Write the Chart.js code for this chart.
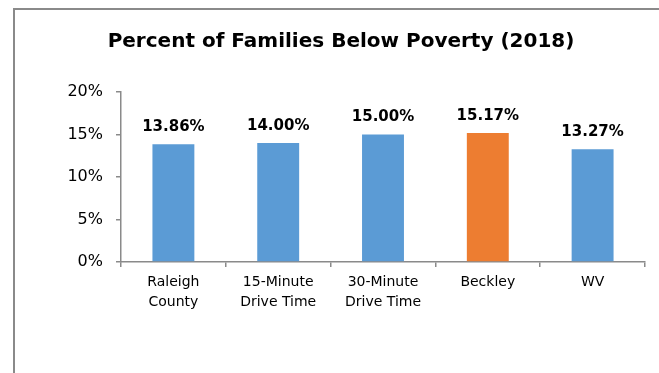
<!DOCTYPE html>
<html>
<head>
<meta charset="utf-8">
<script src="https://cdn.jsdelivr.net/npm/chart.js@4/dist/chart.umd.min.js"></script>
<style>
  html, body { margin: 0; padding: 0; background: #fff; }
  #wrap { position: relative; width: 659px; height: 373px; overflow: hidden; }
  #frame { position: absolute; left: 13px; top: 8px; width: 700px; height: 400px;
           border-left: 2px solid #8a8a8a; border-top: 2px solid #8a8a8a; box-sizing: border-box; }
  canvas { position: absolute; left: 0; top: 0; }
</style>
</head>
<body>
<div id="wrap">
  <div id="frame"></div>
  <canvas id="c" width="659" height="373"></canvas>
</div>
<script>
const categories = [["Raleigh", "County"], ["15-Minute", "Drive Time"], ["30-Minute", "Drive Time"], ["Beckley"], ["WV"]];
const values = [13.86, 14.00, 15.00, 15.17, 13.27];
const barColors = ["#5B9BD5", "#5B9BD5", "#5B9BD5", "#ED7D31", "#5B9BD5"];
const yTicks = [0, 5, 10, 15, 20];
const titleText = "Percent of Families Below Poverty (2018)";

const FONT = "'DejaVu Sans', sans-serif";
const axisColor = "#8a8a8a";

const valueLabels = {
  id: "valueLabels",
  afterDatasetsDraw(chart) {
    const ctx = chart.ctx;
    const meta = chart.getDatasetMeta(0);
    ctx.save();
    ctx.font = "bold 15px " + FONT;
    ctx.fillStyle = "#000";
    ctx.textAlign = "center";
    ctx.textBaseline = "middle";
    meta.data.forEach((bar, i) => {
      ctx.fillText(values[i].toFixed(2) + "%", bar.x, bar.y - 17);
    });
    ctx.restore();
  }
};

const chartTitle = {
  id: "chartTitle",
  afterDraw(chart) {
    const ctx = chart.ctx;
    ctx.save();
    ctx.font = "bold 20px " + FONT;
    ctx.fillStyle = "#000";
    ctx.textAlign = "center";
    ctx.textBaseline = "middle";
    ctx.fillText(titleText, 341, 42);
    ctx.restore();
  }
};

new Chart(document.getElementById("c"), {
  type: "bar",
  data: {
    labels: categories,
    datasets: [{
      data: values,
      backgroundColor: barColors,
      borderWidth: 0,
      barPercentage: 0.4,
      categoryPercentage: 1.0
    }]
  },
  options: {
    responsive: false,
    animation: false,
    layout: { padding: { left: 37, right: 14, top: 92, bottom: 0 } },
    plugins: {
      legend: { display: false },
      tooltip: { enabled: false },
      title: { display: false }
    },
    scales: {
      x: {
        offset: true,
        grid: { offset: true, drawOnChartArea: false, drawTicks: true, tickLength: 5, color: axisColor, lineWidth: 1.5 },
        border: { display: true, color: axisColor, width: 1.5 },
        ticks: { color: "#000", font: { family: FONT, size: 14, lineHeight: "20px" }, padding: 5, maxRotation: 0, autoSkip: false },
        afterFit(scale) { scale.height = 111; }
      },
      y: {
        min: 0, max: 20,
        afterBuildTicks(scale) { scale.ticks = yTicks.map(v => ({ value: v })); },
        grid: { drawOnChartArea: false, drawTicks: true, tickLength: 5, color: axisColor, lineWidth: 1.5 },
        border: { display: true, color: axisColor, width: 1.5 },
        ticks: { color: "#000", font: { family: FONT, size: 16 }, padding: 13, callback: v => v + "%" },
        afterFit(scale) { scale.width = 84; }
      }
    }
  },
  plugins: [valueLabels, chartTitle]
});
</script>
</body>
</html>
